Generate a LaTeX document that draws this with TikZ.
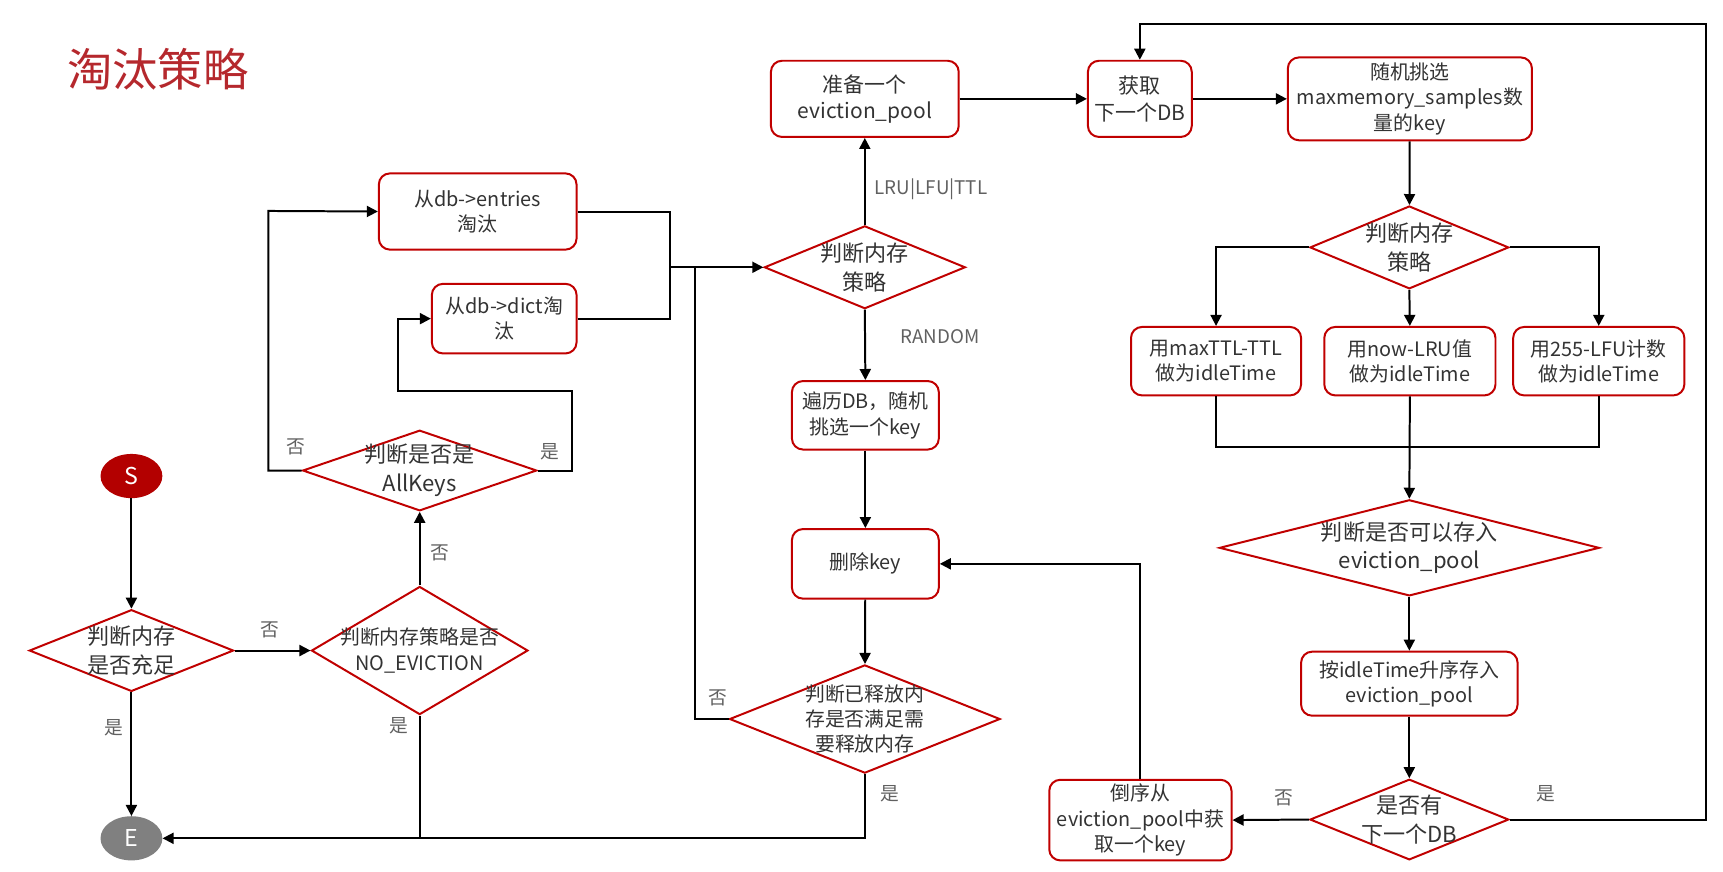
\documentclass[tikz,border=0pt]{standalone}
\usepackage{fontspec}
\setmainfont{Noto Sans CJK SC}
\usetikzlibrary{shapes.geometric,arrows.meta}
\definecolor{bred}{HTML}{C00000}
\definecolor{sred}{HTML}{B30000}
\definecolor{egray}{HTML}{808080}
\definecolor{txt}{HTML}{333333}
\definecolor{lblc}{HTML}{606060}
\definecolor{ttl}{HTML}{B5282D}
\begin{document}
\begin{tikzpicture}[x=1pt,y=-1pt,
  box/.style={draw=bred, line width=1.8pt, rounded corners=10pt, inner sep=1pt, align=center, text=txt, font=\fontsize{18}{23}\selectfont},
  dia/.style={draw=bred, line width=1.8pt, diamond, inner sep=0pt},
  dtext/.style={align=center, text=txt, font=\fontsize{20}{26}\selectfont},
  dtexts/.style={align=center, text=txt, font=\fontsize{18}{23}\selectfont},
  term/.style={ellipse, minimum width=56pt, minimum height=40pt, inner sep=0pt, text=white, font=\fontsize{21}{24}\selectfont},
  lbl/.style={text=lblc, inner sep=0pt, font=\fontsize{17}{20}\selectfont},
  arr/.style={line width=1.8pt, -{Triangle[length=10pt,width=10pt]}},
  ln/.style={line width=1.8pt}]
\path[use as bounding box] (0,0) rectangle (1560,789.5);

\node[text=ttl, font=\fontsize{41}{44}\selectfont] (title) at (143,63) {淘汰策略};

\node[term, fill=sred] (S) at (119,431) {S};
\node[term, fill=egray] (E) at (119,759) {E};

% diamonds
\node[dia, minimum width=185pt, minimum height=74pt, label={[dtext]center:{判断内存\\是否充足}}] (d1) at (119,589) {};
\node[dia, minimum width=196pt, minimum height=116pt, label={[dtexts]center:{判断内存策略是否\\NO\_EVICTION}}] (d2) at (380,589) {};
\node[dia, minimum width=212pt, minimum height=73pt, label={[dtext]center:{判断是否是\\AllKeys}}] (d3) at (380,426) {};
\node[dia, minimum width=182pt, minimum height=75pt, label={[dtext]center:{判断内存\\策略}}] (d4) at (783,242) {};
\node[dia, minimum width=245pt, minimum height=98pt, label={[dtexts]center:{判断已释放内\\存是否满足需\\要释放内存}}] (d5) at (783,651) {};
\node[dia, minimum width=180pt, minimum height=75pt, label={[dtext]center:{判断内存\\策略}}] (d6) at (1276,224) {};
\node[dia, minimum width=344pt, minimum height=87pt, label={[dtext]center:{判断是否可以存入\\eviction\_pool}}] (d7) at (1276,496) {};
\node[dia, minimum width=180pt, minimum height=73pt, label={[dtext]center:{是否有\\下一个DB}}] (d8) at (1276,742) {};

% boxes
\node[box, minimum width=179pt, minimum height=69pt] (b1) at (432.5,191.5) {从db->entries\\淘汰};
\node[box, minimum width=131pt, minimum height=63pt] (b2) at (456.5,288.5) {从db->dict淘\\汰};
\node[box, minimum width=170pt, minimum height=69pt, font=\fontsize{19}{24}\selectfont] (p1) at (783,89.5) {准备一个\\eviction\_pool};
\node[box, minimum width=133pt, minimum height=62pt] (r1) at (783.5,376) {遍历DB，随机\\挑选一个key};
\node[box, minimum width=133pt, minimum height=63pt] (del) at (783.5,510.5) {删除key};
\node[box, minimum width=94pt, minimum height=69pt, font=\fontsize{19}{24}\selectfont] (g1) at (1032,89.5) {获取\\下一个DB};
\node[box, minimum width=221pt, minimum height=75pt] (rs) at (1276.5,89.5) {随机挑选\\maxmemory\_samples数\\量的key};
\node[box, minimum width=154pt, minimum height=62pt] (u1) at (1101,327) {用maxTTL-TTL\\做为idleTime};
\node[box, minimum width=155pt, minimum height=62pt] (u2) at (1276.5,327) {用now-LRU值\\做为idleTime};
\node[box, minimum width=155pt, minimum height=62pt] (u3) at (1447.5,327) {用255-LFU计数\\做为idleTime};
\node[box, minimum width=196pt, minimum height=58pt] (ins) at (1276,619) {按idleTime升序存入\\eviction\_pool};
\node[box, minimum width=165pt, minimum height=73pt] (rev) at (1032.5,742.5) {倒序从\\eviction\_pool中获\\取一个key};

% helper coordinates
\coordinate (c1) at (518,354);
\coordinate (c2) at (360,354);
\coordinate (j1) at (607,242);
\coordinate (j2) at (629,242);
\coordinate (j3) at (1276,405);
\coordinate (c3) at (1545,22);
\coordinate (c4) at (243,191);

% connectors
\draw[arr] (S) -- (d1);
\draw[arr] (d1) -- (E);
\draw[arr] (d1.east) -- (d2.west);
\draw[arr] (d2.north) -- (d3.south);
\draw[ln] (d2.south) -- (d2.south |- E);
\draw[arr] (d3.west) -| (c4) -- (b1.west);
\draw[arr] (d3.east) -| (c1) -- (c2) |- (b2.west);
\draw[ln] (b1.east) -| (j1);
\draw[ln] (b2.east) -| (j1);
\draw[arr] (j1) -- (d4.west);
\draw[ln] (d5.west) -| (j2);
\draw[arr] (d4.north) -- (p1.south);
\draw[arr] (d4.south) -- (r1.north);
\draw[arr] (r1) -- (del);
\draw[arr] (del) -- (d5);
\draw[arr] (d5.south) |- (E.east);
\draw[arr] (p1.east) -- (g1.west);
\draw[arr] (g1.east) -- (rs.west);
\draw[arr] (rs) -- (d6);
\draw[arr] (d6.west) -| (u1.north);
\draw[arr] (d6.south) -- (u2.north);
\draw[arr] (d6.east) -| (u3.north);
\draw[ln] (u1.south) |- (j3) -| (u3.south);
\draw[arr] (u2.south) -- (d7.north);
\draw[arr] (d7.south) -- (ins.north);
\draw[arr] (ins.south) -- (d8.north);
\draw[arr] (d8.east) -| (c3) -| (g1.north);
\draw[arr] (d8.west) -- (rev.east);
\draw[arr] (rev.north) |- (del.east);

% labels
\node[lbl] (l1) at (103,659) {是};
\node[lbl] (l2) at (244,570) {否};
\node[lbl] (l3) at (398,501) {否};
\node[lbl] (l4) at (361,657) {是};
\node[lbl] (l5) at (268,405) {否};
\node[lbl] (l6) at (498,409) {是};
\node[lbl] (l7) at (843,171) {LRU|LFU|TTL};
\node[lbl] (l8) at (851,305) {RANDOM};
\node[lbl] (l9) at (650,632) {否};
\node[lbl] (l10) at (806,719) {是};
\node[lbl] (l11) at (1162,722) {否};
\node[lbl] (l12) at (1400,719) {是};
\end{tikzpicture}
\end{document}
